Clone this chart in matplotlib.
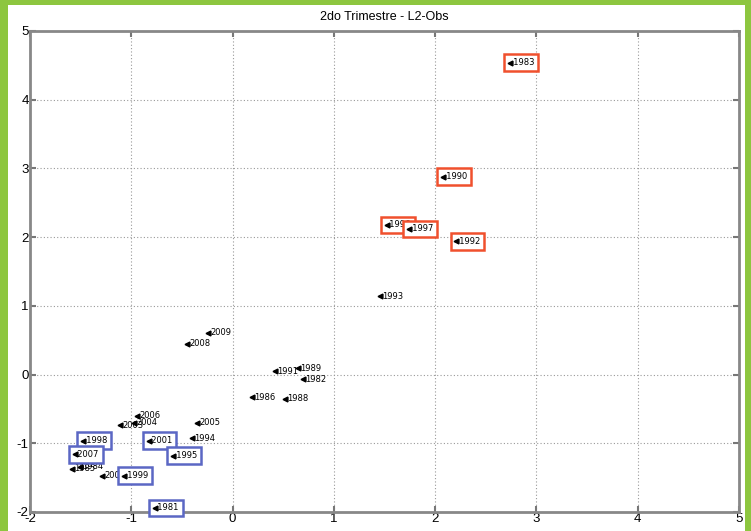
import matplotlib
matplotlib.use("Agg")
import matplotlib.pyplot as plt
from matplotlib.patches import Rectangle

plt.rcParams['font.family'] = ['Liberation Sans', 'DejaVu Sans']
plt.rcParams['axes.unicode_minus'] = False

# years, scores and which group each year belongs to (r = red box, b = blue box, n = no box)
years = ['1983', '1990', '1996', '1997', '1992',
         '1993', '2009', '2008', '1991', '1989', '1982', '1986', '1988',
         '2006', '2003', '2004', '2005', '1994', '2000', '1985', '1984',
         '1998', '2001', '2007', '1995', '1999', '1981']
xs = [2.74, 2.08, 1.52, 1.74, 2.21,
      1.46, -0.24, -0.45, 0.42, 0.65, 0.70, 0.19, 0.52,
      -0.94, -1.11, -0.97, -0.35, -0.40, -1.29, -1.585, -1.51,
      -1.48, -0.83, -1.56, -0.59, -1.07, -0.77]
ys = [4.54, 2.88, 2.18, 2.12, 1.94,
      1.14, 0.61, 0.45, 0.05, 0.09, -0.07, -0.33, -0.35,
      -0.60, -0.74, -0.70, -0.70, -0.93, -1.47, -1.37, -1.34,
      -0.96, -0.96, -1.16, -1.18, -1.47, -1.94]
groups = ['r'] * 5 + ['n'] * 16 + ['b'] * 6

box_col = {'r': '#f0502d', 'b': '#5b67c4'}

fig = plt.figure(figsize=(7.51, 5.31), dpi=100, facecolor='#8dc63f')
fig.add_artist(Rectangle((8 / 751, 0), (745 - 8) / 751, (531 - 5) / 531,
                         transform=fig.transFigure, facecolor='white',
                         edgecolor='none', zorder=-10))

ax = fig.add_axes([30 / 751, 19 / 531, 709 / 751, 481 / 531])
ax.set_facecolor('white')
ax.set_xlim(-2, 5)
ax.set_ylim(-2, 5)
ax.set_xticks(range(-2, 6))
ax.set_yticks(range(-2, 6))
ax.grid(True, linestyle=(0, (1, 2)), color='#999999', linewidth=0.8)
ax.tick_params(direction='in', length=4, width=1.5, color='#777777',
               labelsize=9.5, pad=1, top=True, right=True)
for s in ax.spines.values():
    s.set_color('#888888')
    s.set_linewidth(2)
ax.set_title('2do Trimestre - L2-Obs', fontsize=9, pad=8)

for yr, x, y, g in zip(years, xs, ys, groups):
    ax.plot(x, y, marker='<', color='black', markersize=3.5, linestyle='none', zorder=5)
    if g == 'n':
        ax.annotate(yr, (x, y), xytext=(1.5, 0), textcoords='offset points',
                    ha='left', va='center', fontsize=6, zorder=4,
                    family=['DejaVu Sans'])
    else:
        ax.annotate('  ' + yr, (x, y), xytext=(-1.5, 0), textcoords='offset points',
                    ha='left', va='center', fontsize=6, zorder=4,
                    family=['DejaVu Sans'],
                    bbox=dict(boxstyle='square,pad=0.45', facecolor='white',
                              edgecolor=box_col[g], linewidth=1.8))

fig.savefig('out.png', dpi=100, facecolor=fig.get_facecolor())
